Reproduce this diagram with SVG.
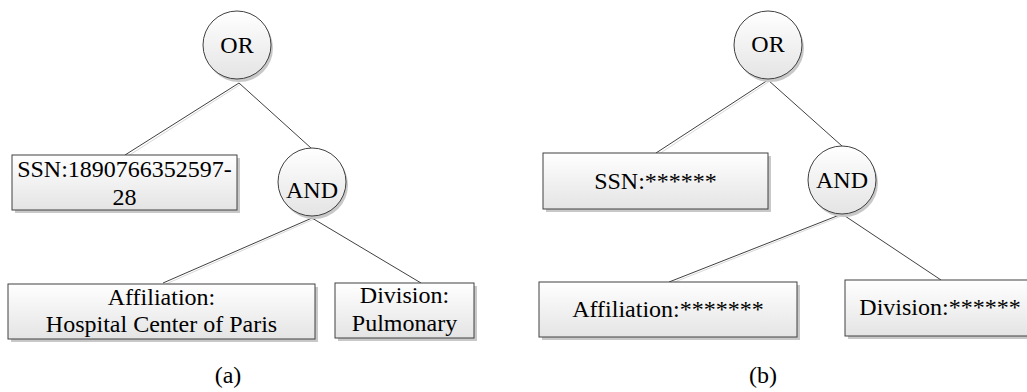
<svg xmlns="http://www.w3.org/2000/svg" width="1027" height="392" viewBox="0 0 1027 392">
<defs>
<linearGradient id="g" x1="0" y1="0" x2="0" y2="1">
<stop offset="0" stop-color="#ffffff"/>
<stop offset="1" stop-color="#e4e4e4"/>
</linearGradient>
<style>
.box{fill:url(#g);stroke:#404040;stroke-width:1}
.sh{fill:#c8c8c8}
.nd{fill:url(#g);stroke:#404040;stroke-width:1}
.t{font-size:24px;fill:#000;text-anchor:middle}
.ln{stroke:#404040;stroke-width:1;fill:none}
.lns{stroke:#d8d8d8;stroke-width:1;fill:none}
</style>
</defs>
<rect width="1027" height="392" fill="#fff"/>
<g id="connectors">
<path class="lns" d="M241 84 L128 156 M314 219 L166 284 M770 81 L659 154 M844 215 L672 283"/>
<path class="ln" d="M239 83 L125 155 M239 83 L311 148 M312 218 L163 283 M312 218 L421 283"/>
<path class="ln" d="M768 80 L656 153 M768 80 L842 146 M842 214 L669 282 M842 214 L941 280"/>
</g>
<g font-family="Liberation Serif, Times New Roman, DejaVu Serif, serif">
<g id="a-or">
<circle cx="239" cy="48" r="34" class="sh"/>
<circle cx="237" cy="45" r="34" class="nd"/>
<text class="t" x="237" y="53">OR</text>
</g>
<g id="a-ssn">
<rect x="15" y="158" width="225" height="55" class="sh"/>
<rect x="12" y="155" width="225" height="55" class="box"/>
<text class="t" x="124.5" y="177">SSN:1890766352597-</text>
<text class="t" x="124.5" y="205">28</text>
</g>
<g id="a-and">
<circle cx="314" cy="185" r="34" class="sh"/>
<circle cx="312" cy="182" r="34" class="nd"/>
<text class="t" x="312" y="198">AND</text>
</g>
<g id="a-aff">
<rect x="11" y="287" width="307" height="55" class="sh"/>
<rect x="8" y="284" width="307" height="55" class="box"/>
<text class="t" x="161.5" y="305">Affiliation:</text>
<text class="t" x="161.5" y="332">Hospital Center of Paris</text>
</g>
<g id="a-div">
<rect x="338" y="286" width="139" height="55" class="sh"/>
<rect x="335" y="283" width="139" height="55" class="box"/>
<text class="t" x="404.5" y="303">Division:</text>
<text class="t" x="404.5" y="331">Pulmonary</text>
</g>
<text class="t" x="228" y="383">(a)</text>
<g id="b-or">
<circle cx="770" cy="48" r="34" class="sh"/>
<circle cx="768" cy="45" r="34" class="nd"/>
<text class="t" x="768" y="52">OR</text>
</g>
<g id="b-ssn">
<rect x="546" y="156" width="225" height="56" class="sh"/>
<rect x="543" y="153" width="225" height="56" class="box"/>
<text class="t" x="655.5" y="189">SSN:******</text>
</g>
<g id="b-and">
<circle cx="844" cy="183" r="34" class="sh"/>
<circle cx="842" cy="180" r="34" class="nd"/>
<text class="t" x="842" y="188">AND</text>
</g>
<g id="b-aff">
<rect x="542" y="285" width="258" height="55" class="sh"/>
<rect x="539" y="282" width="258" height="55" class="box"/>
<text class="t" x="668" y="317">Affiliation:*******</text>
</g>
<g id="b-div">
<rect x="848" y="283" width="185" height="56" class="sh"/>
<rect x="845" y="280" width="185" height="56" class="box"/>
<text class="t" x="940" y="315">Division:******</text>
</g>
<text class="t" x="763" y="383">(b)</text>
</g>
</svg>
